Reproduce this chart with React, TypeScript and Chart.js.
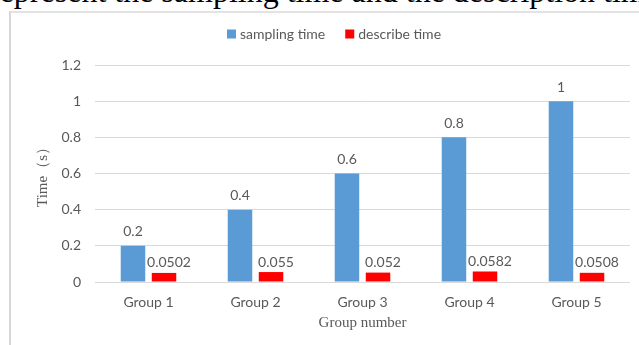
import React, { useEffect, useRef } from "react";
import { Chart, registerables } from "chart.js";

Chart.register(...registerables);

const categories = ["Group 1", "Group 2", "Group 3", "Group 4", "Group 5"];
const samplingTime = [0.2, 0.4, 0.6, 0.8, 1];
const describeTime = [0.0502, 0.055, 0.052, 0.0582, 0.0508];
const seriesNames = ["sampling time", "describe time"];
const yTicks = [0, 0.2, 0.4, 0.6, 0.8, 1, 1.2];
const xTitle = "Group number";
const yTitle = "Time（s）";
const headerText = "represent the sampling time and the description time";

const BLUE = "#5B9BD5";
const RED = "#FF0000";
const TEXT = "#595959";
const LABEL_FONT = "14px Lato";

const dataLabelPlugin = {
  id: "dataLabels",
  afterDatasetsDraw(chart: any) {
    const ctx = chart.ctx;
    ctx.save();
    ctx.font = LABEL_FONT;
    ctx.fillStyle = TEXT;
    ctx.textAlign = "center";
    ctx.textBaseline = "middle";
    chart.data.datasets.forEach((ds: any, di: number) => {
      const meta = chart.getDatasetMeta(di);
      meta.data.forEach((el: any, i: number) => {
        const dx = di === 1 ? 5 : 0;
        const dy = di === 1 ? 10 : 14;
        ctx.fillText(String(ds.data[i]), el.x + dx, el.y - dy);
      });
    });
    ctx.restore();
  },
};

const legendPlugin = {
  id: "customLegend",
  afterDraw(chart: any) {
    const ctx = chart.ctx;
    ctx.save();
    ctx.font = LABEL_FONT;
    ctx.textBaseline = "middle";
    ctx.textAlign = "left";
    const box = 9;
    const gap = 4;
    const itemGap = 20;
    const items = chart.data.datasets.map((ds: any) => ({
      text: ds.label,
      color: ds.backgroundColor,
      w: ctx.measureText(ds.label).width,
    }));
    const total =
      items.reduce((s: number, it: any) => s + box + gap + it.w, 0) +
      itemGap * (items.length - 1);
    let x = 334 - total / 2;
    const y = 34;
    items.forEach((it: any) => {
      ctx.fillStyle = it.color;
      ctx.fillRect(x, y - box / 2, box, box);
      ctx.fillStyle = TEXT;
      ctx.fillText(it.text, x + box + gap, y);
      x += box + gap + it.w + itemGap;
    });
    ctx.restore();
  },
};

export default function App() {
  const canvasRef = useRef<HTMLCanvasElement | null>(null);

  useEffect(() => {
    const canvas = canvasRef.current;
    if (!canvas) return;
    const chart = new Chart(canvas, {
      type: "bar",
      data: {
        labels: categories,
        datasets: [
          {
            label: seriesNames[0],
            data: samplingTime,
            backgroundColor: BLUE,
            categoryPercentage: 0.58,
            barPercentage: 0.79,
          },
          {
            label: seriesNames[1],
            data: describeTime,
            backgroundColor: RED,
            categoryPercentage: 0.58,
            barPercentage: 0.79,
          },
        ],
      },
      options: {
        responsive: false,
        animation: false,
        devicePixelRatio: 1,
        layout: { padding: { top: 65, left: 0, right: 9, bottom: 13 } },
        plugins: {
          legend: { display: false },
          tooltip: { enabled: false },
        },
        scales: {
          x: {
            grid: { display: false },
            border: { display: false },
            ticks: {
              color: TEXT,
              font: { family: "Lato", size: 14 },
              padding: 4,
            },
            title: {
              display: true,
              text: xTitle,
              color: TEXT,
              font: { family: "Liberation Serif", size: 15 },
              padding: { top: 3, bottom: 0 },
            },
            afterFit: (scale: any) => {
              scale.height = 50;
            },
          },
          y: {
            min: 0,
            max: 1.2,
            grid: { color: "#D9D9D9", drawTicks: false },
            border: { display: false },
            afterBuildTicks: (scale: any) => {
              scale.ticks = yTicks.map((v) => ({ value: v }));
            },
            ticks: {
              color: TEXT,
              font: { family: "Lato", size: 14 },
              padding: 14,
              callback: (v: any) => String(Number(Number(v).toFixed(1))),
            },
            title: {
              display: true,
              text: yTitle,
              color: TEXT,
              font: { family: "Liberation Serif", size: 15 },
              padding: { top: 34, bottom: 0 },
            },
            afterFit: (scale: any) => {
              scale.width = 95;
            },
          },
        },
      },
      plugins: [dataLabelPlugin, legendPlugin],
    });
    return () => chart.destroy();
  }, []);

  return (
    <div
      style={{
        position: "fixed",
        left: 0,
        top: 0,
        width: 639,
        height: 345,
        overflow: "hidden",
        background: "#ffffff",
      }}
    >
      <div
        style={{
          position: "absolute",
          left: -11,
          top: -25,
          whiteSpace: "nowrap",
          fontFamily: "'Liberation Serif', serif",
          fontSize: 32,
          lineHeight: "32px",
          color: "#000",
        }}
      >
        {headerText}
      </div>
      <div
        style={{
          position: "absolute",
          left: 9,
          top: 11,
          right: 0,
          bottom: 0,
          borderLeft: "2px solid #D6D6D6",
          borderTop: "2px solid #E3E3E3",
        }}
      />
      <canvas
        ref={canvasRef}
        width={639}
        height={345}
        style={{ position: "absolute", left: 0, top: 0, width: 639, height: 345 }}
      />
    </div>
  );
}
